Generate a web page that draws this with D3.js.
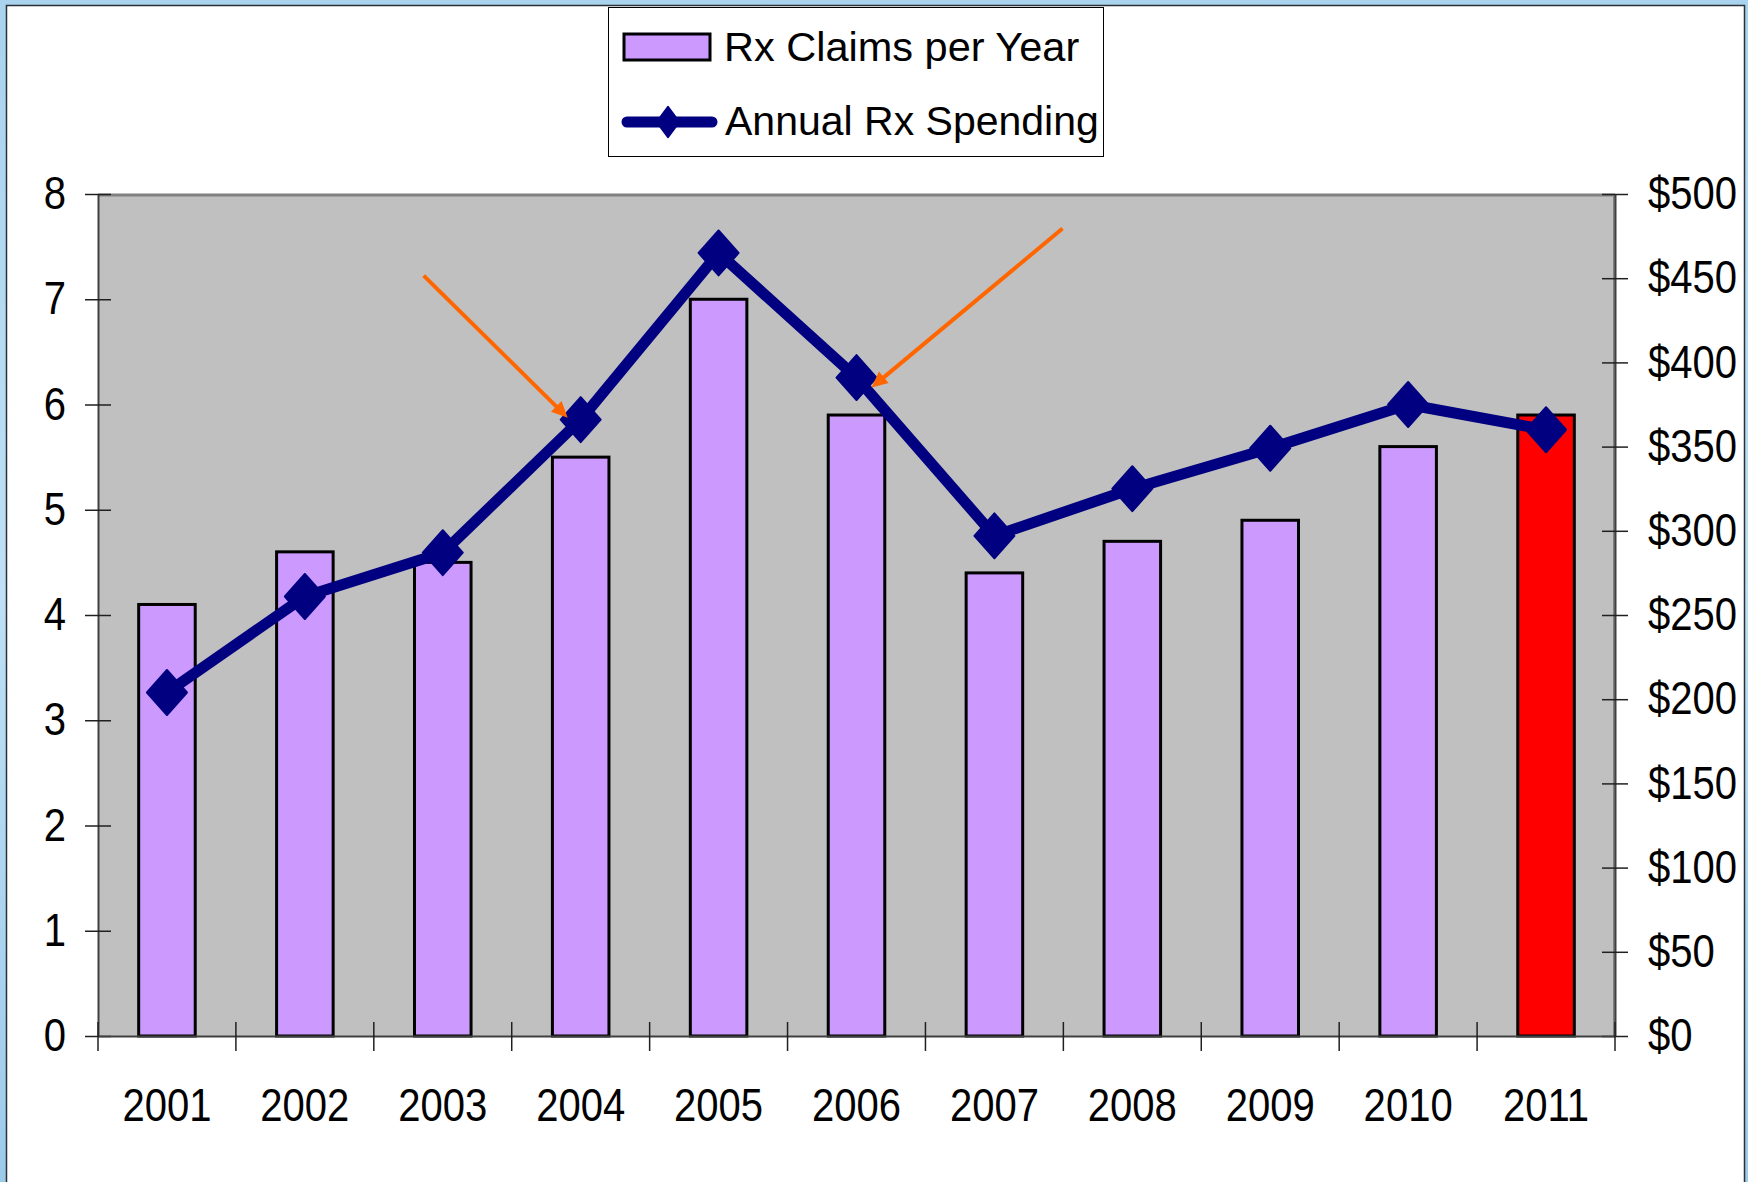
<!DOCTYPE html>
<html>
<head>
<meta charset="utf-8">
<script src="https://cdn.jsdelivr.net/npm/d3@7"></script>
<style>
  html, body { margin: 0; padding: 0; background: #fff; }
  svg { display: block; }
  text { font-family: "Liberation Sans", Arial, Helvetica, sans-serif; fill: #000; }
</style>
</head>
<body>
<script>
// Prescription claims and spending, 2001-2011
const categories = ["2001", "2002", "2003", "2004", "2005", "2006", "2007", "2008", "2009", "2010", "2011"];
const claimsPerYear = [4.1, 4.6, 4.5, 5.5, 7.0, 5.9, 4.4, 4.7, 4.9, 5.6, 5.9];
const annualSpending = [204, 261, 287, 366, 465, 391, 297, 325, 349, 375, 360];
const claimsTicks = [0, 1, 2, 3, 4, 5, 6, 7, 8];
const spendingTicks = [0, 50, 100, 150, 200, 250, 300, 350, 400, 450, 500];
const seriesNames = ["Rx Claims per Year", "Annual Rx Spending"];
const highlightYear = "2011";
const annotatedYears = ["2004", "2006"];

const W = 1748, H = 1182;
const plot = { left: 98, right: 1615, top: 194, bottom: 1036 };
const labelStretch = 0.87;           // axis labels are set slightly condensed
const barFill = "#CC99FF", barHighlight = "#FF0000";
const lineColor = "#000080", arrowColor = "#FF6600";

const svg = d3.select("body").append("svg").attr("width", W).attr("height", H);

// slide frame
const defs = svg.append("defs");
const bg = defs.append("linearGradient").attr("id", "frameBg")
  .attr("x1", 0).attr("y1", 0).attr("x2", 0).attr("y2", 1);
bg.append("stop").attr("offset", "0%").attr("stop-color", "#a9d3ee");
bg.append("stop").attr("offset", "50%").attr("stop-color", "#bfe0f6");
bg.append("stop").attr("offset", "100%").attr("stop-color", "#9ccbea");
svg.append("rect").attr("width", W).attr("height", H).attr("fill", "url(#frameBg)");
svg.append("rect").attr("x", 6.5).attr("y", 5.5).attr("width", 1738).attr("height", H)
  .attr("fill", "#fff").attr("stroke", "#2a3036").attr("stroke-width", 1.5);

// scales
const x = d3.scaleBand().domain(categories).range([plot.left, plot.right]).padding(0);
const yL = d3.scaleLinear().domain([0, 8]).range([plot.bottom, plot.top]);
const yR = d3.scaleLinear().domain([0, 500]).range([plot.bottom, plot.top]);
const cx = c => x(c) + x.bandwidth() / 2;

// plot area
svg.append("rect")
  .attr("x", plot.left).attr("y", plot.top)
  .attr("width", plot.right - plot.left).attr("height", plot.bottom - plot.top)
  .attr("fill", "#C0C0C0");
svg.append("line").attr("x1", plot.left).attr("x2", plot.right)
  .attr("y1", plot.top + 1).attr("y2", plot.top + 1)
  .attr("stroke", "#808080").attr("stroke-width", 3);
svg.append("line").attr("x1", plot.right - 1).attr("x2", plot.right - 1)
  .attr("y1", plot.top).attr("y2", plot.bottom)
  .attr("stroke", "#808080").attr("stroke-width", 2);

// bars
const barW = x.bandwidth() * 0.41;
svg.append("g").selectAll("rect")
  .data(categories.map((c, i) => ({ c, v: claimsPerYear[i] })))
  .join("rect")
  .attr("x", d => cx(d.c) - barW / 2)
  .attr("y", d => yL(d.v))
  .attr("width", barW)
  .attr("height", d => yL(0) - yL(d.v))
  .attr("fill", d => d.c === highlightYear ? barHighlight : barFill)
  .attr("stroke", "#000").attr("stroke-width", 3);

// axes
const fontSize = 46;
function condense(sel) {
  sel.each(function () {
    const t = d3.select(this);
    const xv = +t.attr("x") || 0;
    t.attr("x", xv / labelStretch).attr("transform", `scale(${labelStretch},1)`);
  });
}

const leftAxis = svg.append("g").attr("transform", `translate(${plot.left},0)`)
  .call(d3.axisLeft(yL).tickValues(claimsTicks).tickSize(13).tickSizeOuter(0).tickPadding(19));
leftAxis.select(".domain").attr("stroke", "#404040").attr("stroke-width", 2);
leftAxis.selectAll(".tick line").attr("x1", 13).attr("stroke", "#202020").attr("stroke-width", 1.5);
leftAxis.selectAll(".tick text").style("font-size", fontSize + "px").style("font-family", null).call(condense);

const rightAxis = svg.append("g").attr("transform", `translate(${plot.right},0)`)
  .call(d3.axisRight(yR).tickValues(spendingTicks).tickFormat(d => "$" + d)
    .tickSize(13).tickSizeOuter(0).tickPadding(20));
rightAxis.select(".domain").attr("stroke", "#404040").attr("stroke-width", 2);
rightAxis.selectAll(".tick line").attr("x1", -13).attr("stroke", "#202020").attr("stroke-width", 1.5);
rightAxis.selectAll(".tick text").style("font-size", fontSize + "px").style("font-family", null).call(condense);

const bottomAxis = svg.append("g").attr("transform", `translate(0,${plot.bottom})`)
  .call(d3.axisBottom(x).tickSize(0).tickSizeOuter(0));
bottomAxis.select(".domain").attr("stroke", "#404040").attr("stroke-width", 2);
bottomAxis.selectAll(".tick text")
  .style("font-size", fontSize + "px").style("font-family", null)
  .attr("y", 85).attr("dy", 0)
  .attr("transform", `scale(${labelStretch},1)`);
bottomAxis.selectAll(".tick").each(function () {
  // keep the label centred on the category under the condensing transform
  const g = d3.select(this);
  const m = /translate\(([-\d.]+)/.exec(g.attr("transform"));
  const tx = m ? +m[1] : 0;
  g.attr("transform", `translate(${tx},0)`);
});
bottomAxis.selectAll(".tick line").remove();

// category boundary ticks, crossing the axis
const boundaries = categories.map(c => x(c)).concat([x.range()[1]]);
svg.append("g").selectAll("line").data(boundaries).join("line")
  .attr("x1", d => d).attr("x2", d => d)
  .attr("y1", plot.bottom - 14).attr("y2", plot.bottom + 15)
  .attr("stroke", "#202020").attr("stroke-width", 1.5);

// spending line
const pts = categories.map((c, i) => ({ c, v: annualSpending[i] }));
svg.append("path").datum(pts)
  .attr("d", d3.line().x(d => cx(d.c)).y(d => yR(d.v)))
  .attr("fill", "none").attr("stroke", lineColor)
  .attr("stroke-width", 11).attr("stroke-linejoin", "round");

const diamond = (hw, hh) => `M0,${-hh}L${hw},0L0,${hh}L${-hw},0Z`;
svg.append("g").selectAll("path").data(pts).join("path")
  .attr("transform", d => `translate(${cx(d.c)},${yR(d.v)})`)
  .attr("d", diamond(20, 22.5))
  .attr("fill", lineColor).attr("stroke", lineColor)
  .attr("stroke-width", 2).attr("stroke-linejoin", "round");

// call-out arrows pointing at the 2004 and 2006 spending points
const arrowSpecs = [
  { year: annotatedYears[0], tipOff: [-13, -2], tail: [-144, -142] },
  { year: annotatedYears[1], tipOff: [15, 10], tail: [191, -159] }
];
const arrows = svg.append("g");
arrowSpecs.forEach(a => {
  const i = categories.indexOf(a.year);
  const tx = cx(a.year) + a.tipOff[0];
  const ty = yR(annualSpending[i]) + a.tipOff[1];
  const sx = tx + a.tail[0], sy = ty + a.tail[1];
  const len = Math.hypot(tx - sx, ty - sy);
  const ux = (tx - sx) / len, uy = (ty - sy) / len;
  const headL = 16, headW = 7.5;
  const bx = tx - ux * headL, by = ty - uy * headL;
  arrows.append("line")
    .attr("x1", sx).attr("y1", sy).attr("x2", bx + ux * 2).attr("y2", by + uy * 2)
    .attr("stroke", arrowColor).attr("stroke-width", 4);
  arrows.append("path")
    .attr("d", `M${tx},${ty}L${bx - uy * headW},${by + ux * headW}L${bx + uy * headW},${by - ux * headW}Z`)
    .attr("fill", arrowColor);
});

// legend
const legend = svg.append("g");
legend.append("rect").attr("x", 608.5).attr("y", 7.5).attr("width", 495).attr("height", 149)
  .attr("fill", "#fff").attr("stroke", "#000").attr("stroke-width", 1);
legend.append("rect").attr("x", 624).attr("y", 34).attr("width", 86).attr("height", 26)
  .attr("fill", barFill).attr("stroke", "#000").attr("stroke-width", 3);
legend.append("text").attr("x", 724).attr("y", 61)
  .style("font-size", "41.5px").text(seriesNames[0]);
legend.append("line").attr("x1", 627).attr("x2", 712).attr("y1", 122).attr("y2", 122)
  .attr("stroke", lineColor).attr("stroke-width", 11).attr("stroke-linecap", "round");
legend.append("path").attr("transform", "translate(668,122)")
  .attr("d", diamond(11.5, 15.5))
  .attr("fill", lineColor).attr("stroke", lineColor).attr("stroke-width", 1.5)
  .attr("stroke-linejoin", "round");
legend.append("text").attr("x", 725).attr("y", 135)
  .style("font-size", "41px").text(seriesNames[1]);
</script>
</body>
</html>
